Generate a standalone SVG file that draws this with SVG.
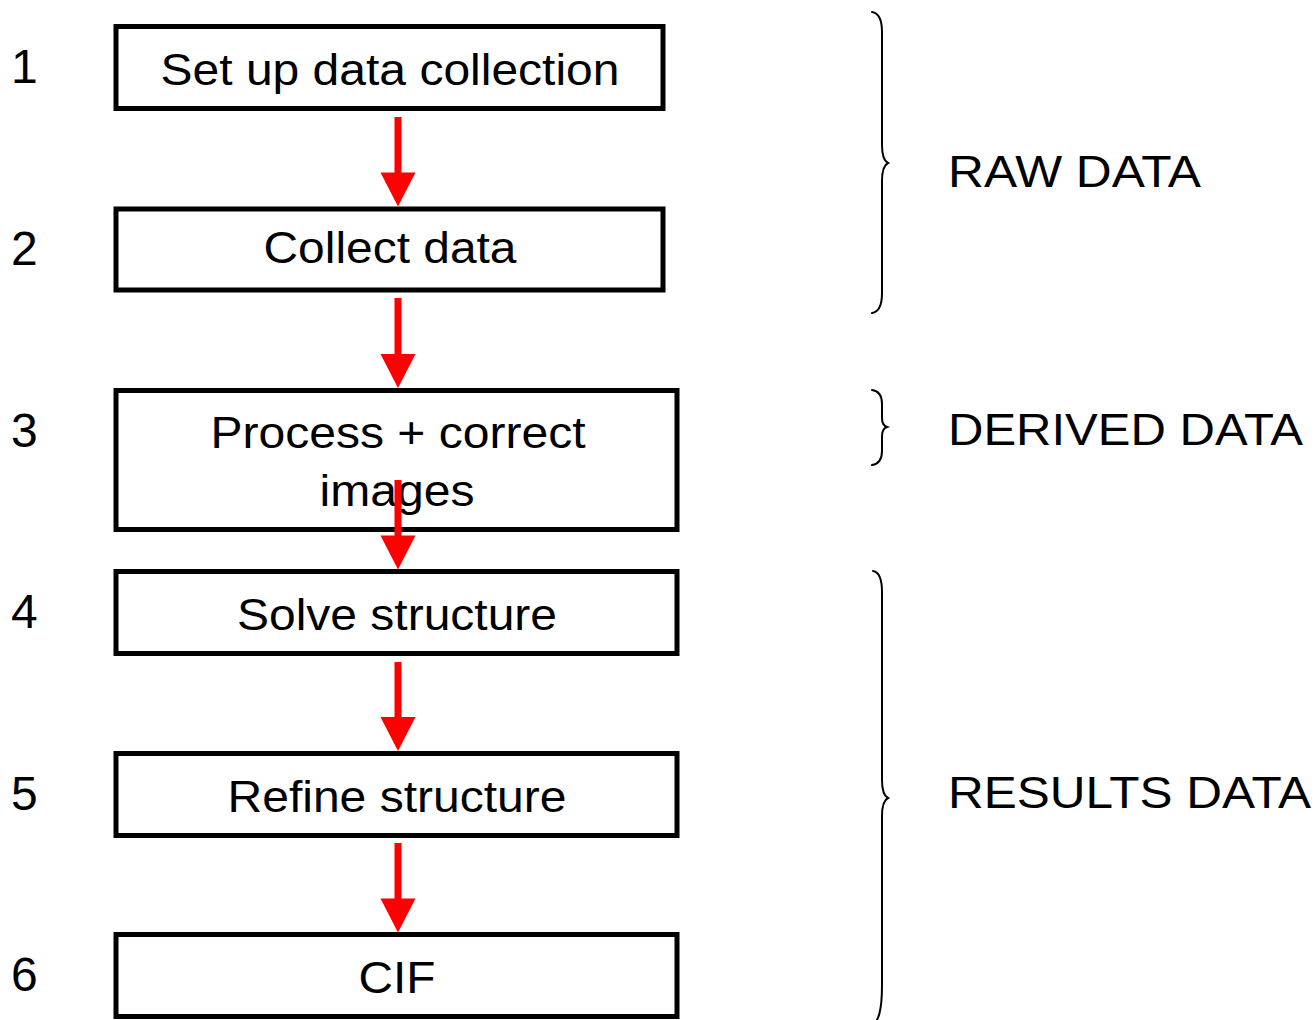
<svg xmlns="http://www.w3.org/2000/svg" width="1316" height="1020" viewBox="0 0 1316 1020">
  <defs>
    <style>
      .box { fill: #ffffff; stroke: #000000; stroke-width: 5; }
      .txt { font-family: "Liberation Sans", Arial, sans-serif; font-size: 44px; fill: #000000; }
      .mid { text-anchor: middle; }
      .num { font-family: "Liberation Sans", Arial, sans-serif; font-size: 48px; fill: #000000; }
      .brace { fill: none; stroke: #000000; stroke-width: 2; stroke-linecap: round; }
      .shaft { fill: #ff0000; }
    </style>
  </defs>
  <rect width="1316" height="1020" fill="#ffffff"/>

  <!-- step numbers -->
  <g id="step-numbers">
    <text class="num" x="11" y="83">1</text>
    <text class="num" x="11" y="265">2</text>
    <text class="num" x="11" y="447">3</text>
    <text class="num" x="11" y="628">4</text>
    <text class="num" x="11" y="810">5</text>
    <text class="num" x="11" y="991">6</text>
  </g>

  <!-- workflow steps -->
  <g id="node-setup">
    <rect class="box" x="116" y="26.5" width="547" height="82"/>
    <text class="txt mid" x="390" y="85" textLength="459" lengthAdjust="spacingAndGlyphs">Set up data collection</text>
  </g>
  <g id="node-collect">
    <rect class="box" x="116" y="209" width="547" height="81"/>
    <text class="txt mid" x="390" y="263" textLength="253" lengthAdjust="spacingAndGlyphs">Collect data</text>
  </g>
  <g id="node-process">
    <rect class="box" x="116" y="390.5" width="561" height="139"/>
    <text class="txt mid" x="398" y="448" textLength="375" lengthAdjust="spacingAndGlyphs">Process + correct</text>
    <text class="txt mid" x="397" y="506" textLength="155" lengthAdjust="spacingAndGlyphs">images</text>
  </g>
  <g id="node-solve">
    <rect class="box" x="116" y="571.5" width="561" height="82"/>
    <text class="txt mid" x="397" y="630" textLength="320" lengthAdjust="spacingAndGlyphs">Solve structure</text>
  </g>
  <g id="node-refine">
    <rect class="box" x="116" y="753.5" width="561" height="82"/>
    <text class="txt mid" x="397" y="812" textLength="339" lengthAdjust="spacingAndGlyphs">Refine structure</text>
  </g>
  <g id="node-cif">
    <rect class="box" x="116" y="934.5" width="561" height="82"/>
    <text class="txt mid" x="397" y="993" textLength="77" lengthAdjust="spacingAndGlyphs">CIF</text>
  </g>

  <!-- red flow arrows between steps -->
  <g id="connectors">
    <rect class="shaft" x="394.5" y="117" width="7" height="57"/>
    <polygon class="shaft" points="380.5,172.5 415.5,172.5 398,206.5"/>
    <rect class="shaft" x="394.5" y="298" width="7" height="58"/>
    <polygon class="shaft" points="380.5,354 415.5,354 398,388"/>
    <rect class="shaft" x="394.5" y="480" width="7" height="57"/>
    <polygon class="shaft" points="380.5,535.5 415.5,535.5 398,569.5"/>
    <rect class="shaft" x="394.5" y="662" width="7" height="57"/>
    <polygon class="shaft" points="380.5,717 415.5,717 398,751"/>
    <rect class="shaft" x="394.5" y="843" width="7" height="58"/>
    <polygon class="shaft" points="380.5,898.5 415.5,898.5 398,932.5"/>
  </g>

  <!-- data category braces -->
  <g id="brace-raw">
    <path class="brace" d="M872,12 C879,13 882,20 882,32 L882,145 C882,156 884,161 888,163 C884,165 882,170 882,181 L882,293 C882,305 879,312 872,313"/>
    <text class="txt" x="948" y="187" textLength="253" lengthAdjust="spacingAndGlyphs">RAW DATA</text>
  </g>
  <g id="brace-derived">
    <path class="brace" d="M872,390 C879,391 882,396 882,404 L882,418 C882,423 884,426 887,427 C884,428 882,431 882,436 L882,451 C882,459 879,464 872,465"/>
    <text class="txt" x="948" y="445" textLength="355" lengthAdjust="spacingAndGlyphs">DERIVED DATA</text>
  </g>
  <g id="brace-results">
    <path class="brace" d="M873,571 C879,572 882,580 882,592 L882,780 C882,791 884,796 888,798 C884,800 882,805 882,816 L882,985 C882,1010 879,1022 870,1028"/>
    <text class="txt" x="948" y="808" textLength="363" lengthAdjust="spacingAndGlyphs">RESULTS DATA</text>
  </g>
</svg>
